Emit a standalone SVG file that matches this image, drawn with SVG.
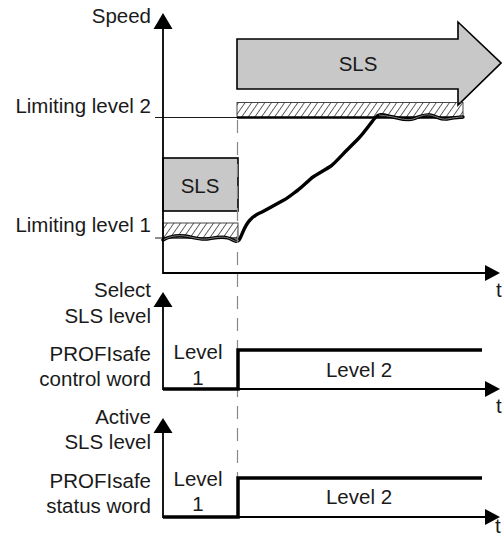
<svg xmlns="http://www.w3.org/2000/svg" width="502" height="538" viewBox="0 0 502 538">
<style>
text{font-family:"Liberation Sans",Arial,sans-serif;font-size:20.5px;fill:#1a1a1a}
.r{text-anchor:end}
.m{text-anchor:middle}
.ax{stroke:#000;stroke-width:1.8;fill:none}
.thin{stroke:#000;stroke-width:0.9;fill:none}
.step{stroke:#000;stroke-width:3.5;fill:none;stroke-linejoin:miter}
.head{fill:#000}
.gray{fill:#c8c8c8;stroke:#000;stroke-width:1.6}
.hatch{fill:url(#h);stroke:#333;stroke-width:0.9}
</style>
<defs>
<pattern id="h" patternUnits="userSpaceOnUse" width="5.4" height="10" patternTransform="rotate(35)">
<line x1="0" y1="-1" x2="0" y2="11" stroke="#000" stroke-width="1.2"/>
</pattern>
</defs>

<g id="speed-chart">
<g id="sls-arrow">
<polygon class="gray" points="237,39 458,39 458,22 501,63 458,105 458,89 237,89"/>
<text class="m" x="358" y="71">SLS</text>
</g>
<g id="sls-box">
<rect class="gray" x="163" y="158" width="75" height="53"/>
<text class="m" x="200" y="193">SLS</text>
</g>
<g id="hatch-1"><rect class="hatch" x="163" y="223" width="75" height="15"/></g>
<g id="hatch-2"><rect class="hatch" x="237" y="102.5" width="226" height="15"/></g>
<g id="limit-lines">
<line class="thin" x1="155" y1="117.5" x2="237" y2="117.5"/>
<line x1="237" y1="117.5" x2="463" y2="117.5" stroke="#000" stroke-width="2.5"/>
<line class="thin" x1="155" y1="238" x2="238" y2="238"/>
</g>
<g id="speed-labels">
<text class="r" x="151" y="23">Speed</text>
<text class="r" x="151" y="113">Limiting level 2</text>
<text class="r" x="151" y="232">Limiting level 1</text>
<text x="496" y="297">t</text>
</g>
<g id="speed-curve">
<path d="M163,240 C170,236 178,235 185,236 S200,240 207,239 S222,236 228,238 S236,243 239,240 C242,236 244,226 250,220 S258,214 262,212 S280,202 284,200 S295,192 298,190 S310,179 313,177 S328,168 331,166 S343,154 347,150 S355,142 358,139 S368,127 371,123 S376,116 379,115 S388,116 393,117 S407,121 413,119 S424,114 430,115 S441,120 447,119 S458,117 463,117" fill="none" stroke="#000" stroke-width="3.4" stroke-linejoin="round" stroke-linecap="round"/>
<path d="M163,240 C170,236 178,235 185,236 S200,240 207,239 S222,236 228,238 S236,243 239,240" fill="none" stroke="#fff" stroke-width="0.7" opacity="0.7"/>
<path d="M379,115 S388,116 393,117 S407,121 413,119 S424,114 430,115 S441,120 447,119 S458,117 463,117" fill="none" stroke="#fff" stroke-width="0.7" opacity="0.7"/>
</g>
<g id="speed-axes">
<path class="ax" d="M163,28 V273 H486"/>
<polygon class="head" points="163,13 153.5,29 172.5,29"/>
<polygon class="head" points="500,273 485,265 485,281"/>
</g>
</g>

<g id="connectors">
<line x1="237.5" y1="120" x2="237.5" y2="478" stroke="#888" stroke-width="1.2" stroke-dasharray="13 9"/>
</g>

<g id="control-chart">
<text class="r" x="151" y="297">Select</text>
<text class="r" x="151" y="323">SLS level</text>
<text class="r" x="151" y="361">PROFIsafe</text>
<text class="r" x="151" y="386">control word</text>
<path class="ax" d="M163,306 V389 H486"/>
<polygon class="head" points="163,292 153.5,307 172.5,307"/>
<polygon class="head" points="500,389 485,381 485,397"/>
<path class="step" d="M163,389 H238 V350 H482"/>
<text class="m" x="198" y="359">Level</text>
<text class="m" x="198" y="385">1</text>
<text class="m" x="359" y="377">Level 2</text>
<text x="496" y="413">t</text>
</g>

<g id="status-chart">
<text class="r" x="151" y="424">Active</text>
<text class="r" x="151" y="449">SLS level</text>
<text class="r" x="151" y="488">PROFIsafe</text>
<text class="r" x="151" y="513">status word</text>
<path class="ax" d="M163,432 V517 H486"/>
<polygon class="head" points="163,418 153.5,433 172.5,433"/>
<polygon class="head" points="500,517 485,509 485,525"/>
<path class="step" d="M163,517 H238 V478 H482"/>
<text class="m" x="198" y="486">Level</text>
<text class="m" x="198" y="511">1</text>
<text class="m" x="359" y="504">Level 2</text>
<text x="495" y="533">t</text>
</g>
</svg>
